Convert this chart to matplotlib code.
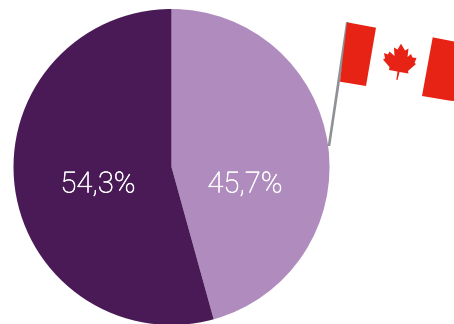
import matplotlib
matplotlib.use("Agg")
from matplotlib import pyplot as plt
from matplotlib import patheffects
from matplotlib.patches import Polygon

W, H = 454, 324

# share of each group, clockwise from 12 o'clock
shares = [45.7, 54.3]
colors = ["#AF8BBE", "#4A1A57"]
label_x = [245, 98]
label_y = 184.5


def px(points):
    # pixel coordinates measured from the top left
    return [(x, H - y) for x, y in points]


fig = plt.figure(figsize=(W / 100, H / 100), dpi=100)
ax = fig.add_axes([0, 0, 1, 1])

ax.pie(shares, colors=colors, startangle=90, counterclock=False,
       center=(171.5, H - 167), radius=158, frame=True)
ax.set_xlim(0, W)
ax.set_ylim(0, H)
ax.axis("off")

# light face thickened a little with a thin stroke
for share, x in zip(shares, label_x):
    text = f"{share:.1f}%".replace(".", ",")
    ax.text(x, H - label_y, text, color="white", fontsize=21, family="Roboto",
            weight="light", ha="center", va="center",
            path_effects=[patheffects.withStroke(linewidth=0.4, foreground="white")])

# flag pole
ax.add_patch(Polygon(px([(346, 22), (348.8, 22.5), (330.3, 146), (327.7, 146)]),
                     fc="#8E9297", ec="none", zorder=3))

# red bands of the flag
red = "#E62314"
ax.add_patch(Polygon(px([(347, 22.3), (376, 27.7), (366, 86), (340, 81.7)]),
                     fc=red, ec="none", zorder=4))
ax.add_patch(Polygon(px([(432.7, 37.3), (454, 41.5), (454, 101), (450, 100.7), (422, 96)]),
                     fc=red, ec="none", zorder=4))

# maple leaf
leaf = [(401, 43.7), (405, 50.5), (408.5, 48.5), (407.5, 57), (411, 54), (412.5, 57.5),
        (416.5, 58), (414.5, 63), (416, 64), (408, 71), (408.5, 73.5), (399.5, 72),
        (397.5, 80), (396.3, 79.8), (397.5, 71.5), (389, 70), (389.5, 67), (383, 59.5),
        (385, 58.5), (384, 53), (388, 54.5), (389.5, 51.5), (394.5, 56), (394, 47.5),
        (397.5, 49.5)]
ax.add_patch(Polygon(px(leaf), fc=red, ec="none", zorder=4))

fig.savefig("out.png", dpi=100, facecolor="white")
